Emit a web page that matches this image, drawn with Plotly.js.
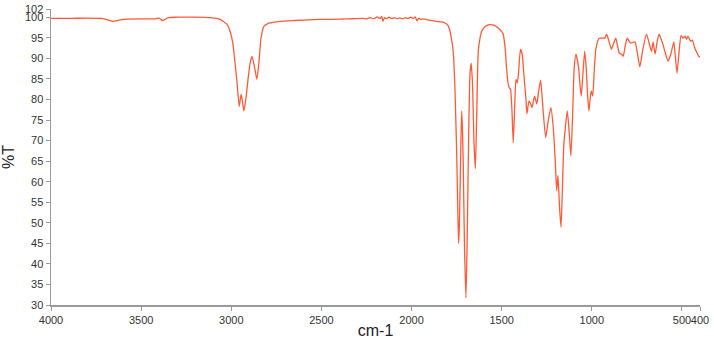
<!DOCTYPE html>
<html>
<head>
<meta charset="utf-8">
<script src="https://cdn.plot.ly/plotly-3.0.1.min.js"></script>
<style>html,body{margin:0;padding:0;background:#fff;}#chart{width:714px;height:339px;}</style>
</head>
<body>
<div id="chart"></div>
<script>
const wavenumber = [
4000,3900,3800,3720,3680,3656,3630,3600,3500,3420,3400,3390,3384,3370,3350,3300,3200,3120,3080,3060,
3046,3024,3007,2992,2980,2968,2956,2950,2945,2938,2930,2918,2906,2895,2885,2872,2858,2846,2835,2819,
2800,2786,2730,2650,2547,2450,2350,2270,2250,2230,2210,2190,2175,2165,2159,2150,2140,2125,2110,2095,
2080,2065,2050,2035,2020,2005,1990,1980,1970,1960,1950,1937,1900,1862,1826,1798,1787,1776,1769,1760,
1750,1743,1739,1735,1732,1727,1722,1717,1713,1706,1698,1691,1683,1676,1669,1661,1654,1646,1639,1630,
1620,1611,1590,1565,1540,1519,1500,1491,1480,1473,1465,1458,1451,1443,1436,1428,1421,1414,1408,1400,
1395,1386,1377,1366,1360,1349,1340,1332,1318,1305,1295,1284,1270,1256,1242,1227,1214,1203,1195,1188,
1179,1171,1164,1155,1136,1125,1116,1107,1098,1088,1073,1066,1059,1051,1040,1031,1024,1016,1009,1003,
995,986,977,959,937,928,918,905,891,880,867,848,835,826,815,804,785,761,749,734,
719,697,678,669,660,649,638,627,608,595,577,562,545,538,527,516,505,494,483,475,
466,453,442,429,416,407,400
];
const transmittance = [
99.7,99.7,99.8,99.7,99.3,99.0,99.2,99.5,99.6,99.6,99.8,99.5,99.2,99.4,99.9,100.0,100.0,99.9,99.7,99.4,
99.0,98.3,96.6,93.8,89.3,84.0,78.3,80.0,81.2,79.5,77.2,80.5,85.3,89.0,90.5,88.1,84.9,89.3,95.0,97.8,
98.4,98.6,99.0,99.2,99.4,99.5,99.6,99.7,99.6,99.9,99.6,100.1,99.7,100.2,99.0,99.9,99.6,100.0,99.7,99.9,
99.6,99.8,99.6,99.9,99.7,100.0,99.7,100.1,99.1,99.8,99.5,99.6,99.3,99.0,98.8,98.0,96.6,94.0,91.7,83.7,
67.5,52.0,45.0,49.0,55.4,68.0,77.2,72.0,63.4,43.3,31.7,47.4,71.6,86.2,88.8,82.8,70.0,63.2,75.5,91.7,
95.0,96.6,97.8,98.2,98.0,97.4,96.5,95.8,92.0,87.6,84.0,82.8,82.5,77.2,69.5,78.0,84.9,84.0,85.7,90.5,
92.2,91.0,86.0,80.4,76.5,79.6,79.0,78.0,80.8,78.9,82.0,84.7,77.2,70.7,74.8,78.0,73.1,65.1,57.8,61.5,
53.7,48.9,57.1,69.2,77.2,71.6,66.3,75.5,87.6,91.0,87.6,83.7,80.8,85.2,91.7,87.6,81.3,77.2,80.4,82.1,
80.8,87.6,92.5,94.9,94.9,94.9,95.9,94.2,92.2,93.5,94.9,91.3,91.0,90.5,93.0,94.9,93.7,94.0,91.7,87.9,
91.7,95.9,93.0,91.7,94.0,91.0,94.0,95.9,93.7,91.7,89.3,91.0,94.0,91.0,86.4,91.7,95.6,94.9,95.4,94.6,
95.4,94.2,94.4,92.5,91.3,90.5,90.3
];
const xTicks = [4000,3500,3000,2500,2000,1500,1000,500,400];
const yTicks = [30,35,40,45,50,55,60,65,70,75,80,85,90,95,100,102];

const fontFam = '"Liberation Sans", Arial, sans-serif';
const trace = {
  x: wavenumber, y: transmittance, type: 'scatter', mode: 'lines',
  line: {color: '#ff5a36', width: 1.3, shape: 'spline', smoothing: 0.5},
  hoverinfo: 'skip'
};
const axisCommon = {
  showgrid: false, zeroline: false, showline: true, linecolor: '#9a9a9a', linewidth: 1.5,
  ticks: 'outside', ticklen: 4, tickcolor: '#9a9a9a', tickwidth: 1, tickangle: 0,
  tickfont: {family: fontFam, size: 11, color: '#333'}
};
const layout = {
  width: 714, height: 339,
  margin: {l: 51, r: 14, t: 9, b: 34},
  paper_bgcolor: '#fff', plot_bgcolor: '#fff',
  showlegend: false,
  xaxis: Object.assign({}, axisCommon, {
    range: [4000, 400], tickmode: 'array', tickvals: xTicks, ticktext: xTicks.map(String),
    title: {text: 'cm-1', font: {family: fontFam, size: 16, color: '#222'}, standoff: 0}
  }),
  yaxis: Object.assign({}, axisCommon, {
    range: [30, 102], tickmode: 'array', tickvals: yTicks, ticktext: yTicks.map(String),
    title: {text: '%T', font: {family: fontFam, size: 16, color: '#222'}, standoff: 6}
  })
};
Plotly.newPlot('chart', [trace], layout, {staticPlot: true, displayModeBar: false});
</script>
</body>
</html>
